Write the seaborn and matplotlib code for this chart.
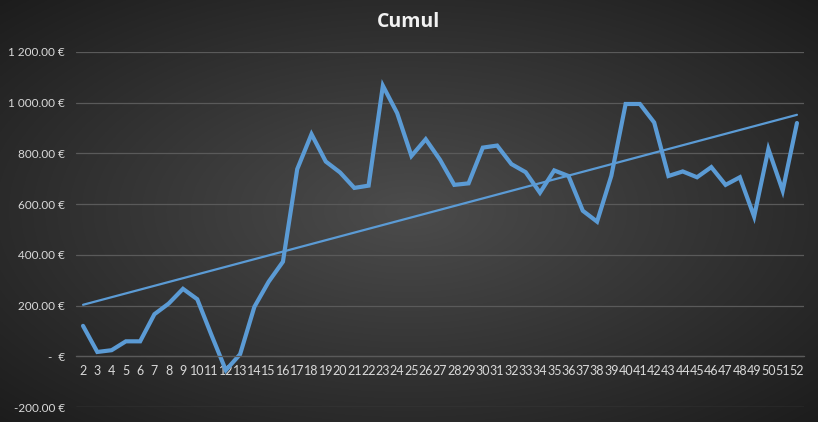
import numpy as np
import pandas as pd
import matplotlib
matplotlib.use("Agg")
import matplotlib.pyplot as plt
import seaborn as sns
from matplotlib.ticker import FuncFormatter

weeks = list(range(2, 53))
cumul = [120, 17, 24, 59, 59, 166, 208, 266, 225, 83,
         -55, 8, 195, 294, 373, 738, 876, 768, 725, 664,
         673, 1067, 959, 790, 856, 775, 676, 682, 823, 831,
         758, 726, 645, 733, 711, 574, 531, 712, 995, 995,
         922, 711, 729, 706, 746, 676, 706, 551, 817, 653, 920]
y_ticks = [-200, 0, 200, 400, 600, 800, 1000, 1200]
title = "Cumul"

df = pd.DataFrame({"week": weeks, "cumul": cumul})

sns.set_theme(style="white")
plt.rcParams["font.family"] = ["Lato", "DejaVu Sans"]

fig = plt.figure(figsize=(8.18, 4.22), dpi=100)

# radial gradient background
bg = fig.add_axes([0, 0, 1, 1], zorder=0)
yy, xx = np.mgrid[0:1:300j, 0:1:600j]
d = np.sqrt(((xx - 0.5) / 0.75) ** 2 + ((yy - 0.5) / 0.75) ** 2)
d = np.clip(d / 0.95, 0, 1)
c0 = np.array([0x4c, 0x4c, 0x4c]) / 255
c1 = np.array([0x1c, 0x1c, 0x1c]) / 255
img = c0[None, None, :] * (1 - d[..., None]) + c1[None, None, :] * d[..., None]
bg.imshow(img, aspect="auto", extent=[0, 1, 0, 1], origin="lower")
bg.axis("off")

ax = fig.add_axes([75.9 / 818, 1 - 407 / 422, (804.1 - 75.9) / 818, (407 - 52) / 422], zorder=1)
ax.set_facecolor("none")

blue = "#5B9BD5"
sns.lineplot(data=df, x="week", y="cumul", ax=ax, color=blue, linewidth=3.0,
             sort=False, solid_joinstyle="miter")
sns.regplot(data=df, x="week", y="cumul", ax=ax, scatter=False, ci=None,
            line_kws={"color": blue, "linewidth": 1.6})

ax.set_xlim(1.5, 52.5)
ax.set_ylim(-200, 1200)
ax.set_yticks(y_ticks)
ax.set_xticks(weeks)
ax.set_xticklabels([str(w) for w in weeks])

def eur(v, pos):
    if abs(v) < 1e-9:
        return "-  €"
    s = f"{abs(v):,.2f}".replace(",", " ")
    return ("-" if v < 0 else "") + s + " €"

ax.yaxis.set_major_formatter(FuncFormatter(eur))
ax.grid(axis="y", color="#5a5a5a", linewidth=0.9)
ax.grid(axis="x", visible=False)
for s in ["top", "right", "left"]:
    ax.spines[s].set_visible(False)
ax.spines["bottom"].set_position(("data", 0))
ax.spines["bottom"].set_color("#5a5a5a")
ax.spines["bottom"].set_linewidth(0.9)
ax.set_axisbelow(True)
ax.tick_params(axis="both", length=0, colors="#d9d9d9", labelsize=8.5)
ax.tick_params(axis="x", pad=6, labelsize=9)
ax.tick_params(axis="y", pad=8)
ax.set_xlabel("")
ax.set_ylabel("")

fig.text(0.5, 1 - 22 / 422, title, ha="center", va="center", color="#f2f2f2",
         fontsize=14, fontweight="bold", family=["Open Sans", "DejaVu Sans"])

fig.savefig("out.png", dpi=100)
